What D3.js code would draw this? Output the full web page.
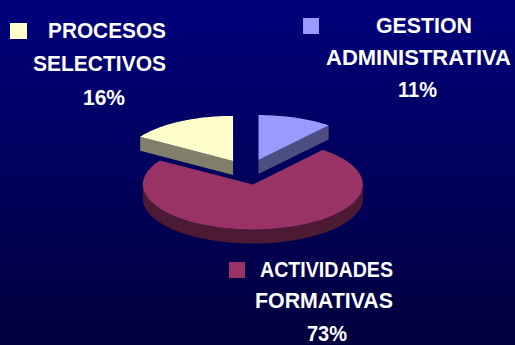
<!DOCTYPE html>
<html>
<head>
<meta charset="utf-8">
<script src="https://cdn.jsdelivr.net/npm/d3@7"></script>
<style>
  html, body { margin: 0; padding: 0; background: #000060; }
  svg { display: block; }
</style>
</head>
<body>
<svg id="chart" width="515" height="345"></svg>
<script>
// Budget split by activity (percent)
const categories = ["GESTION ADMINISTRATIVA", "ACTIVIDADES FORMATIVAS", "PROCESOS SELECTIVOS"];
const values = [11, 73, 16];
const topColors = ["#9999ff", "#993366", "#ffffcc"];
const sideColors = ["#4d4d80", "#4d1a33", "#80806a"];

const W = 515, H = 345;
const svg = d3.select("#chart");

// Background: vertical navy gradient
const defs = svg.append("defs");
const grad = defs.append("linearGradient")
  .attr("id", "bg").attr("x1", 0).attr("y1", 0).attr("x2", 0).attr("y2", 1);
grad.append("stop").attr("offset", "0%").attr("stop-color", "#00007c");
grad.append("stop").attr("offset", "100%").attr("stop-color", "#00003e");
svg.append("rect").attr("width", W).attr("height", H).attr("fill", "url(#bg)");

// 3D pie geometry
const cx = 248, cy = 172;   // pie centre
const rx = 110, ry = 45;    // ellipse radii of the tilted disc
const depth = 14;           // thickness of the disc
const explode = 31;         // slice pull-out distance

const pie = d3.pie().sort(null).value(d => d);
const arcs = pie(values);
const total = d3.sum(values);

const rim = (o, a, dz = 0) => [o[0] + rx * Math.sin(a), o[1] - ry * Math.cos(a) + dz];
const line = d3.line();

function arcPoints(o, a0, a1, dz) {
  const n = Math.max(2, Math.ceil(Math.abs(a1 - a0) / 0.02));
  return d3.range(n + 1).map(i => rim(o, a0 + (a1 - a0) * i / n, dz));
}

arcs.forEach((s, i) => {
  const mid = (s.startAngle + s.endAngle) / 2;
  s.origin = [cx + explode * Math.sin(mid), cy - explode * (ry / rx) * Math.cos(mid)];
  s.index = i;
});

// Back slices first, front slice last
const order = [0, 2, 1];
const g = svg.append("g");

order.forEach(i => {
  const s = arcs[i];
  const o = s.origin;
  const sg = g.append("g");

  // Radial cut faces that point toward the viewer
  [[s.startAngle, -1], [s.endAngle, 1]].forEach(([a, dir]) => {
    const normal = a + dir * Math.PI / 2;
    if (-Math.cos(normal) > 0.05) {
      const pts = [o, rim(o, a), rim(o, a, depth), [o[0], o[1] + depth]];
      sg.append("path").attr("d", line(pts) + "Z").attr("fill", sideColors[i]);
    }
  });

  // Outer curved wall (front half only)
  const w0 = Math.max(s.startAngle, Math.PI / 2);
  const w1 = Math.min(s.endAngle, 3 * Math.PI / 2);
  if (w1 > w0) {
    const pts = arcPoints(o, w0, w1, 0).concat(arcPoints(o, w1, w0, depth));
    sg.append("path").attr("d", line(pts) + "Z").attr("fill", sideColors[i]);
  }

  // Top face
  const topPts = [o].concat(arcPoints(o, s.startAngle, s.endAngle, 0));
  sg.append("path").attr("d", line(topPts) + "Z").attr("fill", topColors[i]);
});

// Labels with legend keys
const labelLayout = [
  { key: [303, 18, 16, 16], x: [424, 418.5, 417.5], y: [33, 65, 97], w: [96, 185, 39] },
  { key: [229, 262, 16, 16], x: [326.5, 324, 327], y: [277, 308, 341], w: [133, 138, 40] },
  { key: [10, 23, 17, 16], x: [107, 99.5, 104], y: [38, 71, 105], w: [118, 133, 42] }
];
const pct = d3.format(".0%");

categories.forEach((name, i) => {
  const L = labelLayout[i];
  const lg = svg.append("g");
  lg.append("rect")
    .attr("x", L.key[0]).attr("y", L.key[1])
    .attr("width", L.key[2]).attr("height", L.key[3])
    .attr("fill", topColors[i]);
  const lines = name.split(" ").concat([pct(values[i] / total)]);
  lines.forEach((t, j) => {
    lg.append("text")
      .attr("x", L.x[j]).attr("y", L.y[j])
      .attr("text-anchor", "middle")
      .attr("textLength", L.w[j])
      .attr("lengthAdjust", "spacingAndGlyphs")
      .attr("font-family", "'Liberation Sans', Arial, sans-serif")
      .attr("font-weight", "bold")
      .attr("font-size", 22)
      .attr("fill", "#ffffff")
      .text(t);
  });
});
</script>
</body>
</html>
